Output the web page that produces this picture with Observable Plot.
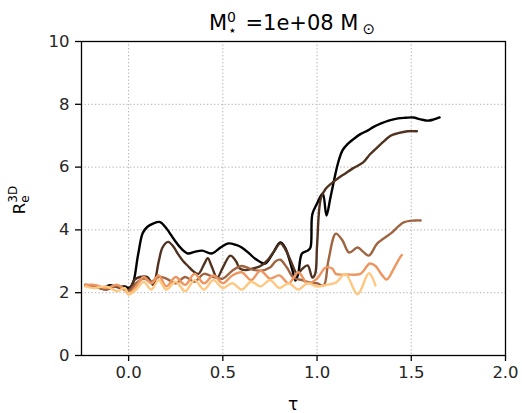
<!DOCTYPE html>
<html><head><meta charset="utf-8">
<script src="https://cdn.jsdelivr.net/npm/d3@7"></script>
<script src="https://cdn.jsdelivr.net/npm/@observablehq/plot@0.6"></script>
<style>body{margin:0;background:#fff}</style>
</head><body><div id="chart"></div>
<script>
const xTicks = [0, 0.5, 1.0, 1.5, 2.0];
const yTicks = [0, 2, 4, 6, 8, 10];
const seriesColors = ["#000000", "#50321f", "#9f6440", "#ef955f", "#ffc77f"];

const tau1 = [-0.23,-0.18,-0.14,-0.10,-0.06,-0.02,0.0,0.02,0.05,0.075,0.1,0.13,0.167,0.2,0.245,0.28,0.315,0.35,0.39,0.44,0.49,0.53,0.57,0.60,0.64,0.67,0.725,0.76,0.805,0.83,0.87,0.885,0.90,0.92,0.95,0.965,0.975,1.0,1.03,1.05,1.07,1.09,1.11,1.135,1.165,1.195,1.23,1.27,1.3,1.34,1.38,1.43,1.47,1.51,1.55,1.59,1.62,1.65];
const r1 = [2.25,2.22,2.15,2.24,2.18,2.2,2.15,2.25,3.2,3.9,4.1,4.2,4.25,4.05,3.66,3.4,3.25,3.3,3.34,3.25,3.45,3.57,3.52,3.44,3.25,3.09,2.93,3.2,3.6,3.44,2.7,2.39,2.6,3.25,3.34,3.44,4.5,4.84,5.16,4.46,5.0,5.57,6.1,6.53,6.75,6.9,7.05,7.17,7.28,7.39,7.48,7.55,7.57,7.58,7.52,7.48,7.52,7.58];

const tau2 = [-0.23,-0.18,-0.12,-0.08,-0.04,0.0,0.03,0.06,0.1,0.13,0.16,0.18,0.21,0.24,0.26,0.29,0.315,0.34,0.37,0.40,0.42,0.44,0.47,0.5,0.54,0.57,0.59,0.62,0.66,0.70,0.735,0.77,0.805,0.83,0.86,0.895,0.92,0.95,0.975,0.99,1.0,1.02,1.045,1.08,1.11,1.15,1.19,1.245,1.28,1.32,1.36,1.39,1.43,1.48,1.53];
const r2 = [2.25,2.2,2.1,2.2,2.15,2.1,2.4,2.5,2.5,2.25,3.0,3.44,3.62,3.45,3.25,3.0,2.85,2.7,2.6,2.9,3.1,2.85,2.48,2.8,3.18,3.0,2.77,2.72,2.77,2.85,3.02,3.3,3.57,3.4,3.02,2.6,2.75,2.87,2.48,2.6,3.5,5.0,5.3,5.5,5.64,5.8,5.96,6.15,6.4,6.63,6.85,7.0,7.08,7.14,7.14];

const tau3 = [-0.23,-0.18,-0.12,-0.06,0.0,0.04,0.08,0.12,0.16,0.2,0.25,0.3,0.35,0.4,0.45,0.5,0.55,0.6,0.65,0.7,0.75,0.78,0.805,0.84,0.875,0.92,0.965,1.0,1.035,1.06,1.1,1.135,1.17,1.215,1.245,1.275,1.32,1.39,1.46,1.52,1.55];
const r3 = [2.22,2.2,2.1,2.2,2.05,2.3,2.45,2.35,2.5,2.45,2.3,2.5,2.35,2.6,2.5,2.45,2.7,2.85,2.75,2.7,2.8,3.0,3.05,2.8,2.48,2.4,2.32,2.3,2.23,3.02,3.88,3.66,3.28,3.44,3.3,3.18,3.57,3.88,4.24,4.3,4.3];

const tau4 = [-0.23,-0.18,-0.12,-0.06,-0.02,0.0,0.04,0.08,0.12,0.16,0.2,0.25,0.3,0.35,0.4,0.45,0.5,0.55,0.6,0.65,0.7,0.75,0.8,0.85,0.9,0.95,1.0,1.045,1.08,1.1,1.16,1.23,1.28,1.31,1.34,1.37,1.41,1.44,1.45];
const r4 = [2.25,2.25,2.15,2.25,2.1,1.95,2.2,2.5,2.3,2.55,2.2,2.5,2.25,2.6,2.3,2.55,2.3,2.55,2.65,2.4,2.7,2.45,2.55,2.3,2.65,2.3,2.45,2.8,2.77,2.6,2.58,2.6,2.93,2.85,2.6,2.42,2.8,3.12,3.2];

const tau5 = [-0.23,-0.18,-0.12,-0.06,-0.02,0.0,0.04,0.08,0.12,0.16,0.2,0.25,0.3,0.35,0.4,0.45,0.5,0.55,0.6,0.65,0.7,0.75,0.8,0.85,0.9,0.95,1.0,1.05,1.1,1.15,1.215,1.275,1.31];
const r5 = [2.2,2.15,2.2,2.05,2.15,1.95,2.1,2.35,2.1,2.4,2.1,2.35,2.05,2.4,2.1,2.4,2.15,2.3,2.1,2.35,2.2,2.4,2.15,2.3,2.1,2.3,2.2,2.25,2.32,2.6,1.95,2.62,2.23];

const taus = [tau1, tau2, tau3, tau4, tau5];
const rs = [r1, r2, r3, r4, r5];
const data = [];
taus.forEach((t, s) => t.forEach((x, i) => data.push({s, tau: x, r: rs[s][i]})));

const font = "DejaVu Sans, sans-serif";
const chart = Plot.plot({
  width: 522, height: 413,
  marginLeft: 81, marginRight: 17, marginTop: 41, marginBottom: 58,
  style: {fontFamily: font, fontSize: "16.5px", color: "#262626", background: "#fff"},
  x: {domain: [-0.25, 2.0], label: null},
  y: {domain: [0, 10], label: null},
  marks: [
    Plot.gridX(xTicks, {stroke: "#b0b0b0", strokeOpacity: 1, strokeDasharray: "1.3,2.2", strokeWidth: 1}),
    Plot.gridY(yTicks, {stroke: "#b0b0b0", strokeOpacity: 1, strokeDasharray: "1.3,2.2", strokeWidth: 1}),
    ...rs.map((_, s) => Plot.line(data.filter(d => d.s === s), {x: "tau", y: "r", stroke: seriesColors[s], strokeWidth: 2.4, curve: "catmull-rom"})),
    Plot.frame({stroke: "#000", strokeWidth: 1.3}),
    Plot.axisX(xTicks, {tickFormat: d3.format(".1f"), tickSize: 6, tickPadding: 5, fontSize: 16.5, stroke: "#000", strokeWidth: 1.3}),
    Plot.axisY(yTicks, {tickFormat: d => String(d), tickSize: 6, tickPadding: 6, fontSize: 16.5, stroke: "#000", strokeWidth: 1.3})
  ]
});
document.getElementById("chart").appendChild(chart);

const svg = d3.select(chart);
// title
const t = svg.append("text").attr("x", 292).attr("y", 30).attr("text-anchor", "middle")
  .attr("font-family", font).attr("font-size", 21).attr("fill", "#000");
t.append("tspan").text("M");
t.append("tspan").attr("font-size", 14).attr("dy", -8).text("0");
t.append("tspan").attr("font-size", 14).attr("dx", -8).attr("dy", 13).text("⋆");
t.append("tspan").attr("dx", 2).attr("dy", -5).text(" =1e+08 M");
t.append("tspan").attr("font-size", 15).attr("dx", 4).attr("dy", 4).text("⊙");

// y label
const yl = svg.append("text").attr("transform", "translate(25,200) rotate(-90)").attr("text-anchor", "middle")
  .attr("font-family", font).attr("font-size", 16.5).attr("fill", "#000");
yl.append("tspan").text("R");
yl.append("tspan").attr("font-size", 12).attr("dy", -8).text("3D");
yl.append("tspan").attr("font-size", 12).attr("dx", -17).attr("dy", 12).text("e");

// x label
svg.append("text").attr("x", 293).attr("y", 410).attr("text-anchor", "middle")
  .attr("font-family", font).attr("font-size", 17).attr("fill", "#000").text("τ");
</script></body></html>
